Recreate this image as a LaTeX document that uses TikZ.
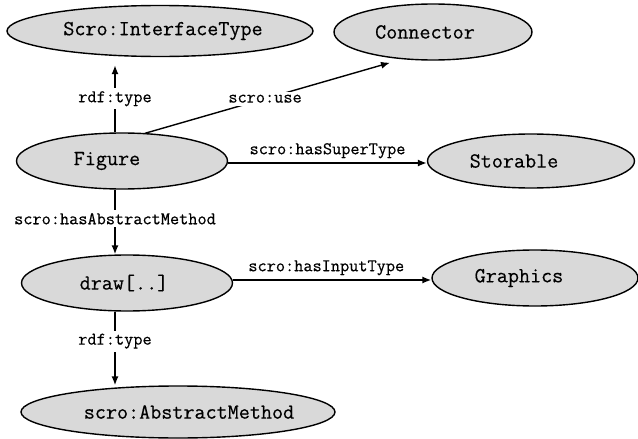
\documentclass[tikz,border=0pt]{standalone}
\usepackage{fontspec}
\newfontfamily\courlike{Latin Modern Mono}[FakeBold=0.45]
\usetikzlibrary{shapes.geometric,arrows.meta,calc}
\definecolor{nodegray}{HTML}{D9D9D9}
\tikzset{
  ell/.style={ellipse, draw=black, line width=1.4pt, fill=nodegray, inner sep=0pt,
    font=\courlike\fontsize{21.5}{23}\selectfont},
  arr/.style={line width=1.4pt, -{Latex[length=9pt,width=7pt]}},
  lbl/.style={font=\courlike\fontsize{17.8}{19}\selectfont, inner sep=1pt},
  onl/.style={lbl, fill=white, inner sep=3pt}
}
\begin{document}
\begin{tikzpicture}[x=1pt,y=-1pt]
\useasboundingbox (0,0) rectangle (638,439);
\node[ell, minimum width=306, minimum height=51] (it) at (160,31) {Scro:InterfaceType\hspace*{-6pt}};
\node[ell, minimum width=198, minimum height=56] (con) at (433,32) {\hspace*{-16pt}Connector};
\node[ell, minimum width=211, minimum height=56] (fig) at (122,161) {\hspace*{-30pt}Figure};
\node[ell, minimum width=207, minimum height=54] (sto) at (531,161) {\hspace*{-34pt}Storable};
\node[ell, minimum width=211, minimum height=56] (drw) at (127,283) {\hspace*{-6pt}draw[..]};
\node[ell, minimum width=206, minimum height=56] (gra) at (535,278) {\hspace*{-32pt}Graphics};
\node[ell, minimum width=314, minimum height=52] (am) at (178,412) {scro:AbstractMethod\hspace*{-22pt}};

\coordinate (vx) at (115,0);
\draw[arr] (fig.north -| vx) -- node[onl, pos=0.5] {rdf:type} ($(it.south -| vx)+(0,8)$);
\draw[arr] ($(fig.north -| 145,0)+(0,1)$) -- node[onl, pos=0.49] {scro:use} ($(con.south -| 390,0)+(0,2)$);
\draw[arr] (fig.east |- 0,163) -- node[lbl, above=3pt, pos=0.5] {scro:hasSuperType} (sto.west |- 0,163);
\draw[arr] (fig.south -| vx) -- node[onl, pos=0.45] {scro:hasAbstractMethod} (drw.north -| vx);
\draw[arr] (drw.east |- 0,280) -- node[lbl, above=3pt, pos=0.47] {scro:hasInputType} (gra.west |- 0,280);
\draw[arr] (drw.south -| vx) -- node[onl, pos=0.4] {rdf:type} (am.north -| vx);
\end{tikzpicture}
\end{document}
